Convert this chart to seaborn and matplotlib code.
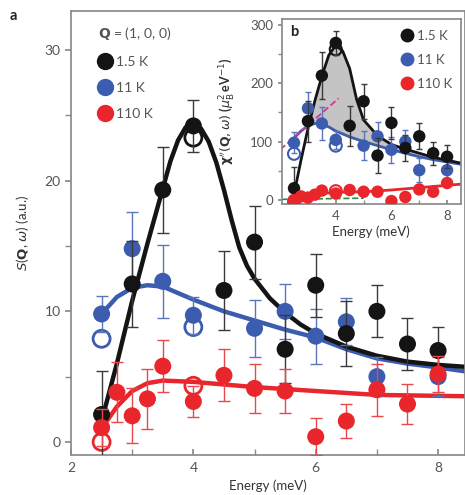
import matplotlib
matplotlib.use("Agg")
import matplotlib.pyplot as plt
from matplotlib.lines import Line2D
from matplotlib.ticker import MultipleLocator
import seaborn as sns

# ---- panel a : S(Q, w) ----
energy = [2.5, 3, 3.5, 4, 4.5, 5, 5.5, 6, 6.5, 7, 7.5, 8]
s_1p5K = [2.1, 12.1, 19.3, 24.2, 11.6, 15.3, 7.1, 12.0, 8.3, 10.0, 7.5, 7.0]
s_1p5K_err = [3.3, 3.3, 3.3, 2.0, 3.0, 2.8, 2.6, 2.4, 2.5, 2.0, 2.0, 1.8]

energy_11K = [2.5, 3, 3.5, 4, 5, 5.5, 6, 6.5, 7, 8]
s_11K = [9.8, 14.8, 12.3, 9.7, 8.7, 10.0, 8.1, 9.2, 5.0, 5.0]
s_11K_err = [1.4, 2.8, 2.8, 1.4, 2.2, 2.1, 2.1, 1.8, 1.5, 1.5]

energy_110K = [2.5, 2.75, 3, 3.25, 3.5, 4, 4.5, 5, 5.5, 6, 6.5, 7, 7.5, 8]
s_110K = [1.1, 3.8, 2.0, 3.3, 5.8, 3.1, 5.1, 4.1, 3.9, 0.4, 1.6, 4.0, 2.9, 5.2]
s_110K_err = [1.4, 2.3, 2.1, 2.3, 2.0, 1.2, 2.0, 1.9, 1.7, 1.4, 1.3, 2.0, 1.5, 1.4]

# open symbols
open_E_1p5K = [4]
open_s_1p5K = [23.3]
open_E_11K = [2.5, 4]
open_s_11K = [7.9, 8.8]
open_E_110K = [2.5, 4]
open_s_110K = [0.0, 4.3]

# fitted curves
fit_E_1p5K = [2.5, 2.75, 3.0, 3.25, 3.5, 3.625, 3.75, 3.875, 4.0, 4.125, 4.25, 4.375,
              4.5, 4.625, 4.75, 4.875, 5.0, 5.25, 5.5, 5.75, 6.0, 6.5, 7.0, 7.5, 8.0, 8.45]
fit_s_1p5K = [1.6, 6.0, 10.8, 15.2, 19.4, 21.5, 23.1, 24.1, 24.35, 24.0, 23.0, 21.4,
              19.3, 17.0, 14.9, 13.5, 12.5, 11.0, 9.9, 9.0, 8.3, 7.3, 6.6, 6.15, 5.9, 5.75]
fit_E_11K = [2.5, 2.75, 3.0, 3.25, 3.5, 4.0, 4.5, 5.0, 5.5, 6.0, 6.5, 7.0, 7.5, 8.0, 8.45]
fit_s_11K = [9.8, 11.1, 11.8, 12.0, 11.9, 10.9, 10.0, 9.3, 8.6, 8.0, 7.1, 6.4, 6.0, 5.7, 5.4]
fit_E_110K = [2.5, 2.6, 2.75, 3.0, 3.25, 3.5, 4.0, 5.0, 6.0, 7.0, 8.45]
fit_s_110K = [1.0, 1.7, 2.7, 3.9, 4.5, 4.7, 4.6, 4.2, 3.9, 3.6, 3.5]

# ---- panel b : chi'' ----
chi_1p5K = [20, 135, 213, 269, 127, 169, 76, 132, 89, 109, 80, 74]
chi_1p5K_err = [37, 35, 40, 20, 34, 30, 30, 28, 22, 22, 20, 20]
chi_11K = [98, 157, 131, 103, 93, 109, 86, 100, 51, 51]
chi_11K_err = [18, 28, 28, 15, 25, 25, 22, 20, 20, 15]
chi_110K = [0, 6, 4, 9, 16, 11, 17, 14, 14, -2, 5, 18, 14, 29]
chi_110K_err = [5, 6, 6, 6, 6, 5, 6, 6, 6, 6, 6, 7, 6, 6]

open_chi_1p5K = [258]
open_chi_11K = [79, 93]
open_chi_110K = [-3, 15]

chi_fit_E = [2.5, 2.75, 3.0, 3.25, 3.5, 3.75, 4.0, 4.25, 4.5, 4.75, 5.0, 5.5,
             6.0, 6.5, 7.0, 7.5, 8.0, 8.5]
chi_fit_1p5K = [10, 68, 122, 170, 212, 248, 265, 255, 225, 172, 137, 110,
                95, 87, 80, 73, 68, 63]
chi_fit_11K = [106, 118, 127, 131, 130, 125, 118, 113, 108, 104, 100, 93,
               86, 80, 74, 69, 65, 61]
chi_fit_E_110K = [2.35, 3.0, 3.5, 4.0, 5.0, 6.0, 7.0, 8.5]
chi_fit_110K = [-3, 6, 11, 13, 14, 17, 21, 27]

pink_E = [2.0, 4.1]
pink_chi = [86, 174]
green_E = [2.05, 5.0]
green_chi = [1, 3]

BLACK = "#141414"
BLUE = "#3b5caf"
RED = "#e8262b"
GREY_TXT = "#555555"
SPINE = "#8a8a8a"

sns.set_theme(style="ticks")
plt.rcParams["font.family"] = ["Lato", "DejaVu Sans"]
plt.rcParams["axes.edgecolor"] = SPINE
plt.rcParams["xtick.color"] = SPINE
plt.rcParams["ytick.color"] = SPINE
plt.rcParams["xtick.labelcolor"] = GREY_TXT
plt.rcParams["ytick.labelcolor"] = GREY_TXT
plt.rcParams["axes.labelcolor"] = "#333333"

fig = plt.figure(figsize=(4.65, 4.95), dpi=100)
ax = fig.add_axes([71 / 465, 1 - 455 / 495, 394 / 465, 444 / 495])


def draw_series(axis, x, y, err, color, ecolor, s, cap, z):
    axis.errorbar(x, y, yerr=err, fmt="none", ecolor=ecolor, elinewidth=1,
                  capsize=cap, capthick=1, zorder=z)
    sns.scatterplot(x=x, y=y, color=color, s=s, edgecolor="none", ax=axis,
                    zorder=z + 0.5, legend=False)


def draw_open(axis, x, y, color, s, lw, z):
    axis.scatter(x, y, s=s, facecolors="none", edgecolors=color,
                 linewidths=lw, zorder=z)


# curves
sns.lineplot(x=fit_E_11K, y=fit_s_11K, color=BLUE, lw=3.2, ax=ax, zorder=2)
sns.lineplot(x=fit_E_1p5K, y=fit_s_1p5K, color=BLACK, lw=3.2, ax=ax, zorder=2.2)
sns.lineplot(x=fit_E_110K, y=fit_s_110K, color=RED, lw=3.2, ax=ax, zorder=2.4)

draw_open(ax, open_E_11K, open_s_11K, BLUE, 150, 2, 3)
draw_open(ax, open_E_1p5K, open_s_1p5K, BLACK, 150, 2, 3)
draw_open(ax, open_E_110K, open_s_110K, RED, 150, 2, 3)
draw_series(ax, energy_11K, s_11K, s_11K_err, BLUE, "#5a76bb", 150, 4.5, 4)
draw_series(ax, energy, s_1p5K, s_1p5K_err, BLACK, "#3a3a3a", 150, 4.5, 5)
draw_series(ax, energy_110K, s_110K, s_110K_err, RED, "#e8474b", 150, 4.5, 6)

ax.set_xlim(2, 8.44)
ax.set_ylim(-1, 33)
ax.xaxis.set_major_locator(MultipleLocator(2))
ax.xaxis.set_minor_locator(MultipleLocator(1))
ax.yaxis.set_major_locator(MultipleLocator(10))
ax.yaxis.set_minor_locator(MultipleLocator(5))
ax.tick_params(axis="x", which="both", direction="in", length=4, labelsize=10, pad=5)
ax.tick_params(axis="y", which="both", direction="out", length=4, labelsize=10)
ax.set_xlabel("Energy (meV)", fontsize=9.5, labelpad=4)
ax.set_ylabel(r"$S$($\mathbf{Q}$, $\omega$) (a.u.)", fontsize=9.5, labelpad=10)

handles = [Line2D([], [], ls="none", marker="o", ms=12.5, mfc=c, mec="none")
           for c in (BLACK, BLUE, RED)]
leg = ax.legend(handles, ["1.5 K", "11 K", "110 K"],
                title=r"$\mathbf{Q}$ = (1, 0, 0)", loc="upper left",
                bbox_to_anchor=(0.045, 0.99), frameon=False, fontsize=10,
                title_fontsize=10, handlelength=0.9, handletextpad=0.35,
                labelspacing=1.0, alignment="left", borderpad=0.2)
for t in leg.get_texts():
    t.set_color(GREY_TXT)
leg.get_title().set_color(GREY_TXT)

fig.text(10 / 465, 1 - 16 / 495, "a", fontsize=10.5, fontweight="bold",
         color="#222222", va="center")

# ---- inset ----
axi = fig.add_axes([281.5 / 465, 1 - 204 / 495, 179.5 / 465, 185 / 495])

axi.fill_between(chi_fit_E, chi_fit_1p5K, chi_fit_11K,
                 where=[a > b for a, b in zip(chi_fit_1p5K, chi_fit_11K)],
                 interpolate=True, color="#c4c4c4", lw=0, zorder=1)
sns.lineplot(x=chi_fit_E, y=chi_fit_11K, color=BLUE, lw=2, ax=axi, zorder=2)
sns.lineplot(x=chi_fit_E, y=chi_fit_1p5K, color=BLACK, lw=2, ax=axi, zorder=2.2)
sns.lineplot(x=chi_fit_E_110K, y=chi_fit_110K, color=RED, lw=2, ax=axi, zorder=2.4)
axi.plot(pink_E, pink_chi, ls="--", color="#d6358f", lw=1.3, zorder=2.5)
axi.plot(green_E, green_chi, ls="--", color="#2e8a3a", lw=1.2, zorder=2.5)

draw_open(axi, open_E_11K, open_chi_11K, BLUE, 75, 1.5, 3)
draw_open(axi, open_E_1p5K, open_chi_1p5K, BLACK, 75, 1.5, 3)
draw_open(axi, open_E_110K, open_chi_110K, RED, 75, 1.5, 3)
draw_series(axi, energy_11K, chi_11K, chi_11K_err, BLUE, "#5a76bb", 80, 2.5, 4)
draw_series(axi, energy, chi_1p5K, chi_1p5K_err, BLACK, "#3a3a3a", 80, 2.5, 5)
draw_series(axi, energy_110K, chi_110K, chi_110K_err, RED, "#e8474b", 80, 2.5, 6)

axi.set_xlim(2.05, 8.5)
axi.set_ylim(-7, 310)
axi.xaxis.set_major_locator(MultipleLocator(2))
axi.xaxis.set_minor_locator(MultipleLocator(1))
axi.yaxis.set_major_locator(MultipleLocator(100))
axi.yaxis.set_minor_locator(MultipleLocator(50))
axi.tick_params(axis="x", which="both", direction="in", length=3, labelsize=9.5, pad=4)
axi.tick_params(axis="y", which="both", direction="out", length=3, labelsize=9.5, pad=3)
axi.set_xlabel("Energy (meV)", fontsize=9.5, labelpad=3)
axi.set_ylabel(r"$\mathbf{\chi}''(\mathbf{Q}, \omega)$ ($\mu_\mathrm{B}^2\,$eV$^{-1}$)",
               fontsize=9, fontweight="bold", labelpad=9)

handles_i = [Line2D([], [], ls="none", marker="o", ms=10, mfc=c, mec="none")
             for c in (BLACK, BLUE, RED)]
legi = axi.legend(handles_i, ["1.5 K", "11 K", "110 K"], loc="upper right",
                  bbox_to_anchor=(1.0, 0.99), frameon=False, fontsize=9.5,
                  handlelength=0.8, handletextpad=0.35, labelspacing=0.9,
                  borderpad=0.2)
for t in legi.get_texts():
    t.set_color(GREY_TXT)
axi.text(0.05, 0.93, "b", transform=axi.transAxes, fontsize=10.5,
         fontweight="bold", color="#222222", va="center")

fig.savefig("out.png", dpi=100)
